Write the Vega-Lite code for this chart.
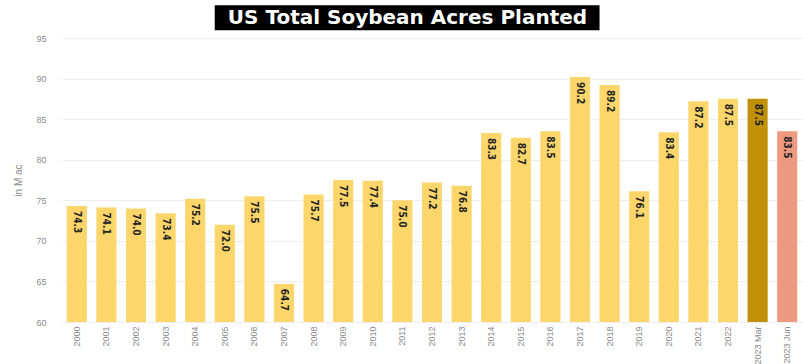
{
  "$schema": "https://vega.github.io/schema/vega-lite/v6.json",
  "width": 740,
  "height": 284,
  "autosize": {"type": "none"},
  "padding": {"left": 62, "top": 38, "right": 1, "bottom": 42},
  "background": "white",
  "config": {
    "view": {"stroke": null},
    "font": "Liberation Sans",
    "axis": {"labelColor": "#8a8a8a", "titleColor": "#8a8a8a", "domain": false, "ticks": false}
  },
  "datasets": {
    "bars": [
      {"year": "2000", "acres": 74.3, "kind": "annual"},
      {"year": "2001", "acres": 74.1, "kind": "annual"},
      {"year": "2002", "acres": 74.0, "kind": "annual"},
      {"year": "2003", "acres": 73.4, "kind": "annual"},
      {"year": "2004", "acres": 75.2, "kind": "annual"},
      {"year": "2005", "acres": 72.0, "kind": "annual"},
      {"year": "2006", "acres": 75.5, "kind": "annual"},
      {"year": "2007", "acres": 64.7, "kind": "annual"},
      {"year": "2008", "acres": 75.7, "kind": "annual"},
      {"year": "2009", "acres": 77.5, "kind": "annual"},
      {"year": "2010", "acres": 77.4, "kind": "annual"},
      {"year": "2011", "acres": 75.0, "kind": "annual"},
      {"year": "2012", "acres": 77.2, "kind": "annual"},
      {"year": "2013", "acres": 76.8, "kind": "annual"},
      {"year": "2014", "acres": 83.3, "kind": "annual"},
      {"year": "2015", "acres": 82.7, "kind": "annual"},
      {"year": "2016", "acres": 83.5, "kind": "annual"},
      {"year": "2017", "acres": 90.2, "kind": "annual"},
      {"year": "2018", "acres": 89.2, "kind": "annual"},
      {"year": "2019", "acres": 76.1, "kind": "annual"},
      {"year": "2020", "acres": 83.4, "kind": "annual"},
      {"year": "2021", "acres": 87.2, "kind": "annual"},
      {"year": "2022", "acres": 87.5, "kind": "annual"},
      {"year": "2023 Mar", "acres": 87.5, "kind": "march"},
      {"year": "2023 Jun", "acres": 83.5, "kind": "june"}
    ],
    "title": [
      {"label": "US Total Soybean Acres Planted", "from": "2005", "to": "2018", "mid": "2011", "top": 99.05, "bottom": 95.95, "center": 97.45}
    ]
  },
  "layer": [
    {
      "data": {"name": "bars"},
      "mark": {"type": "bar"},
      "encoding": {
        "x": {"field": "year", "type": "nominal", "sort": null,
          "scale": {"paddingInner": 0.32, "paddingOuter": 0.16},
          "axis": {"title": null, "labelAngle": -90, "labelFontSize": 9, "labelPadding": 4, "grid": false}},
        "y": {"field": "acres", "type": "quantitative",
          "scale": {"domain": [60, 95], "nice": false, "zero": false},
          "axis": {"title": "in M ac", "titleFontSize": 10, "titleFontWeight": "normal", "titlePadding": 12, "values": [60, 65, 70, 75, 80, 85, 90, 95], "labelFontSize": 9, "labelPadding": 16, "gridColor": "#eeeeee"}},
        "y2": {"datum": 60},
        "color": {"field": "kind", "type": "nominal", "legend": null,
          "scale": {"domain": ["annual", "march", "june"], "range": ["#fdd66b", "#c09106", "#ee9a80"]}}
      }
    },
    {
      "data": {"name": "bars"},
      "mark": {"type": "text", "angle": 90, "align": "left", "baseline": "middle", "dx": 5, "font": "DejaVu Sans Condensed", "fontWeight": "bold", "fontSize": 10, "color": "#222222"},
      "encoding": {
        "x": {"field": "year", "type": "nominal", "sort": null},
        "y": {"field": "acres", "type": "quantitative"},
        "text": {"field": "acres", "type": "quantitative", "format": ".1f"}
      }
    },
    {
      "data": {"name": "title"},
      "mark": {"type": "rect", "color": "black", "clip": false},
      "encoding": {
        "x": {"field": "from", "type": "nominal", "sort": null, "bandPosition": 0},
        "x2": {"field": "to", "bandPosition": 0},
        "y": {"field": "top", "type": "quantitative"},
        "y2": {"field": "bottom"}
      }
    },
    {
      "data": {"name": "title"},
      "mark": {"type": "text", "font": "DejaVu Sans", "fontWeight": "bold", "fontSize": 20, "color": "white", "baseline": "middle", "align": "center", "clip": false},
      "encoding": {
        "x": {"field": "mid", "type": "nominal", "sort": null, "bandPosition": 0.75},
        "y": {"field": "center", "type": "quantitative"},
        "text": {"field": "label"}
      }
    }
  ]
}
